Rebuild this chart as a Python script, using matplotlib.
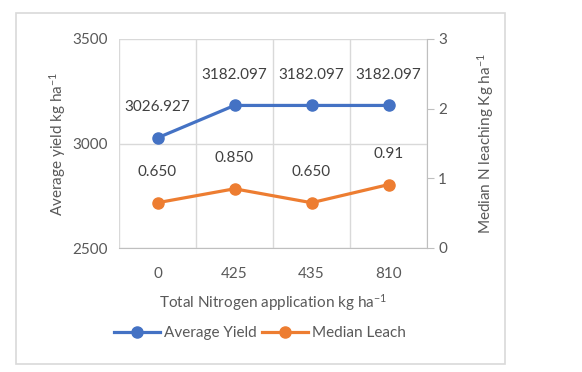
import matplotlib

matplotlib.use("Agg")
import matplotlib.pyplot as plt  # noqa: E402
from matplotlib.patches import Rectangle  # noqa: E402

categories = ["0", "425", "435", "810"]
avg_yield = [3026.927, 3182.097, 3182.097, 3182.097]
median_leach = [0.650, 0.850, 0.650, 0.91]
leach_labels = ["0.650", "0.850", "0.650", "0.91"]

BLUE = "#4472C4"
ORANGE = "#ED7D31"
TEXT = "#595959"
GRID = "#D9D9D9"

plt.rcParams["font.family"] = ["Lato", "DejaVu Sans"]
plt.rcParams["mathtext.default"] = "regular"
plt.rcParams["font.size"] = 11

fig = plt.figure(figsize=(5.82, 3.72), dpi=100)
fig.patches.append(Rectangle((16 / 582, 1 - 364 / 372), 489 / 582, 351 / 372,
                             transform=fig.transFigure, fill=False,
                             edgecolor=GRID, linewidth=1.2))

ax = fig.add_axes([119 / 582, 1 - 248 / 372, 308 / 582, 209 / 372])
ax2 = ax.twinx()

x = list(range(len(categories)))

# left axis: yield
ax.set_xlim(-0.5, len(categories) - 0.5)
ax.set_ylim(2500, 3500)
ax.set_yticks([2500, 3000, 3500])
ax.set_xticks(x)
ax.set_xticklabels(categories)
ax.set_xticks([i - 0.5 for i in range(len(categories) + 1)], minor=True)
ax.grid(True, axis="y", color=GRID, linewidth=1)
ax.grid(True, axis="x", which="minor", color=GRID, linewidth=1)
ax.tick_params(axis="both", which="both", length=0, colors=TEXT)
ax.tick_params(axis="x", pad=14)
ax.tick_params(axis="y", pad=8)
for side in ("left", "top", "right"):
    ax.spines[side].set_visible(False)
ax.spines["bottom"].set_color("#BFBFBF")
ax.set_axisbelow(True)

ax.plot(x, avg_yield, color=BLUE, linewidth=2.3, marker="o", markersize=8,
        label="Average Yield", zorder=3)
for xi, yi in zip(x, avg_yield):
    ax.annotate(f"{yi:.3f}", xy=(xi, yi), xytext=(0, 22), textcoords="offset points",
                ha="center", va="center", color="#404040")

ax.set_xlabel("Total Nitrogen application kg ha$^{-1}$", color=TEXT, labelpad=8)
ax.set_ylabel("Average yield kg ha$^{-1}$", color=TEXT, labelpad=3)

# right axis: leaching
ax2.set_ylim(0, 3)
ax2.set_yticks([0, 1, 2, 3])
for side in ("left", "top", "bottom"):
    ax2.spines[side].set_visible(False)
ax2.spines["right"].set_color("#BFBFBF")
ax2.tick_params(axis="y", length=5, color="#BFBFBF", labelcolor=TEXT, pad=3)

ax2.plot(x, median_leach, color=ORANGE, linewidth=2.3, marker="o", markersize=8,
         label="Median Leach", zorder=3)
for xi, yi, lab in zip(x, median_leach, leach_labels):
    ax2.annotate(lab, xy=(xi, yi), xytext=(0, 22), textcoords="offset points",
                 ha="center", va="center", color="#404040")

ax2.set_ylabel("Median N leaching Kg ha$^{-1}$", color=TEXT, labelpad=20)

h1, l1 = ax.get_legend_handles_labels()
h2, l2 = ax2.get_legend_handles_labels()
leg = fig.legend(h1 + h2, l1 + l2, loc="center", bbox_to_anchor=(260 / 582, 1 - 333 / 372),
                 ncol=2, frameon=False, handlelength=3, handletextpad=0.3,
                 columnspacing=0.3)
for t in leg.get_texts():
    t.set_color(TEXT)

fig.savefig("out.png", dpi=100)
